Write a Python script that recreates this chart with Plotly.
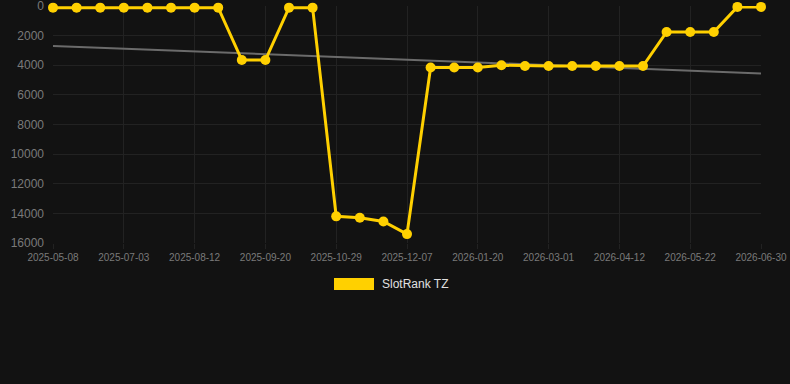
import plotly.graph_objects as go

dates = ["2025-05-08", "2025-05-27", "2025-06-15", "2025-07-03", "2025-07-16", "2025-07-29",
         "2025-08-12", "2025-08-25", "2025-09-07", "2025-09-20", "2025-10-03", "2025-10-16",
         "2025-10-29", "2025-11-11", "2025-11-24", "2025-12-07", "2025-12-22", "2026-01-05",
         "2026-01-20", "2026-02-02", "2026-02-15", "2026-03-01", "2026-03-15", "2026-03-29",
         "2026-04-12", "2026-04-25", "2026-05-08", "2026-05-22", "2026-06-04", "2026-06-17",
         "2026-06-30"]
ranks = [110, 110, 110, 110, 110, 110, 110, 110, 3650, 3650, 110, 110,
         14200, 14300, 14550, 15400, 4150, 4150, 4150, 4000, 4050, 4050,
         4050, 4050, 4050, 4050, 1750, 1750, 1750, 60, 60]
trend_x = [dates[0], dates[-1]]
trend_y = [2700, 4550]
tick_labels = dates[::3]
y_ticks = [0, 2000, 4000, 6000, 8000, 10000, 12000, 14000, 16000]
y_tick_text = [str(v) for v in y_ticks]
series_name = "SlotRank TZ"

yellow = "#FFD000"
bg = "#121212"

fig = go.Figure()
fig.add_trace(go.Scatter(x=trend_x, y=trend_y, mode="lines",
                         line=dict(color="#6b6b6b", width=2), showlegend=False,
                         hoverinfo="skip"))
fig.add_trace(go.Scatter(x=dates, y=ranks, mode="lines+markers", name=series_name,
                         line=dict(color=yellow, width=3),
                         marker=dict(color=yellow, size=10),
                         cliponaxis=False, showlegend=False))

fig.update_layout(
    width=790, height=384,
    margin=dict(l=53, r=29, t=6, b=141, autoexpand=False),
    paper_bgcolor=bg, plot_bgcolor=bg,
    font=dict(family="Arial, Liberation Sans, sans-serif"),
    xaxis=dict(type="category", categoryorder="array", categoryarray=dates,
               range=[0, len(dates) - 1], tickmode="array", tickvals=tick_labels,
               ticktext=tick_labels, tickfont=dict(size=10, color="#7a7a7a"),
               showgrid=True, gridcolor="#222222", gridwidth=1, zeroline=False,
               showline=False, ticks="outside", ticklen=5, tickcolor="#222222",
               automargin=False, ticklabeloverflow="allow"),
    yaxis=dict(range=[16000, -1], tickmode="array", tickvals=y_ticks,
               ticktext=y_tick_text,
               tickfont=dict(size=12, color="#7a7a7a"),
               showgrid=True, gridcolor="#222222", gridwidth=1, zeroline=False,
               showline=False, ticks="", ticklabelstandoff=8, automargin=False,
               ticklabeloverflow="allow"),
    showlegend=False,
)

# legend drawn manually (rectangle swatch + label)
fig.add_shape(type="rect", xref="paper", yref="paper",
              x0=(334 - 53) / 708, x1=(374 - 53) / 708,
              y0=(243 - 290) / 237, y1=(243 - 278) / 237,
              fillcolor=yellow, line=dict(width=0))
fig.add_annotation(text=series_name, xref="paper", yref="paper",
                   x=(380 - 53) / 708, y=(243 - 284) / 237,
                   xanchor="left", yanchor="middle", showarrow=False,
                   font=dict(size=12, color="#e0e0e0"))

fig.write_html("out.html")
